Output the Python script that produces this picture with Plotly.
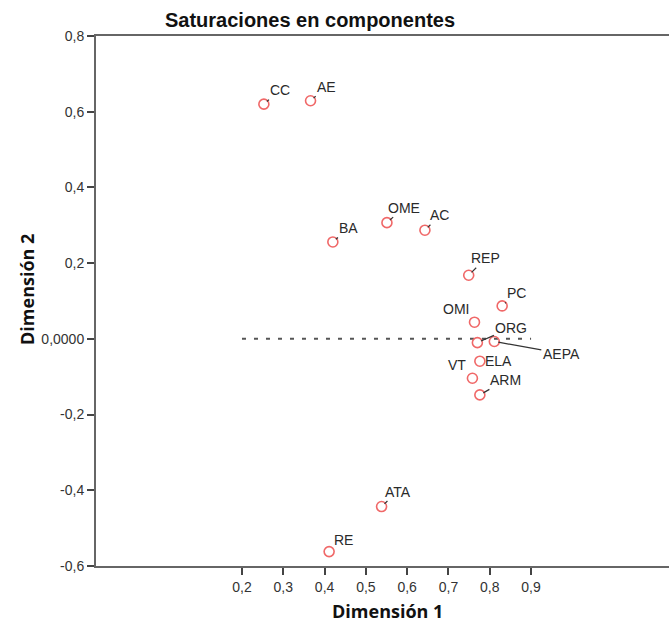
import plotly.graph_objects as go

# ---- data ----
labels = ["CC", "AE", "BA", "OME", "AC", "REP", "PC", "OMI", "ORG", "AEPA",
          "ELA", "VT", "ARM", "ATA", "RE"]
dim1 = [0.253, 0.366, 0.420, 0.551, 0.643, 0.749, 0.830, 0.763, 0.770, 0.811,
        0.776, 0.758, 0.776, 0.538, 0.411]
dim2 = [0.620, 0.629, 0.256, 0.307, 0.287, 0.168, 0.087, 0.044, -0.010, -0.007,
        -0.059, -0.104, -0.148, -0.443, -0.562]
ref_x = [0.2, 0.9]
ref_y = [0.0, 0.0]
x_ticks = [0.2, 0.3, 0.4, 0.5, 0.6, 0.7, 0.8, 0.9]
x_ticktext = ["0,2", "0,3", "0,4", "0,5", "0,6", "0,7", "0,8", "0,9"]
y_ticks = [0.8, 0.6, 0.4, 0.2, 0.0, -0.2, -0.4, -0.6]
y_ticktext = ["0,8", "0,6", "0,4", "0,2", "0,0000", "-0,2", "-0,4", "-0,6"]

# ---- label placement (pixel offsets, leader flag) ----
placement = {
    "CC": (16, -14, True), "AE": (16, -14, True), "BA": (16, -14, True),
    "OME": (17, -15, True), "AC": (15, -15, True), "REP": (17, -17, True),
    "PC": (14, -13, True), "OMI": (-18, -13, False), "ORG": (34, -15, True),
    "AEPA": (67, 12, True), "ELA": (19, 0, False), "VT": (-15, -13, False),
    "ARM": (26, -15, True), "ATA": (16, -15, True), "RE": (14, -12, True),
}

FONT = "Liberation Sans, Arial, sans-serif"
fig = go.Figure()

fig.add_trace(go.Scatter(
    x=ref_x, y=ref_y, mode="lines",
    line=dict(color="#555555", width=2, dash="4px,8px"),
    hoverinfo="skip", showlegend=False))

fig.add_trace(go.Scatter(
    x=dim1, y=dim2, mode="markers",
    marker=dict(symbol="circle-open", size=10, color="#f06868",
                line=dict(width=1.6, color="#f06868")),
    text=labels, showlegend=False))

for lab, xv, yv in zip(labels, dim1, dim2):
    dx, dy, lead = placement[lab]
    if lead:
        fig.add_annotation(x=xv, y=yv, text=lab, showarrow=True, ax=dx, ay=dy,
                           arrowhead=0, arrowwidth=1.2, arrowcolor="#333333",
                           standoff=4, startstandoff=0,
                           font=dict(family=FONT, size=14, color="#2a2a2a"))
    else:
        fig.add_annotation(x=xv, y=yv, text=lab, showarrow=False,
                           xshift=dx, yshift=-dy,
                           font=dict(family=FONT, size=14, color="#2a2a2a"))

# axis titles
fig.add_annotation(xref="paper", yref="paper", x=0.508, y=-0.0849,
                   xanchor="center", yanchor="middle",
                   text="<b>Dimensión 1</b>", showarrow=False,
                   font=dict(family="Open Sans, sans-serif", size=18, color="#111111"))
fig.add_annotation(xref="paper", yref="paper", x=-0.1204, y=0.5208,
                   xanchor="center", yanchor="middle",
                   text="<b>Dimensión 2</b>", showarrow=False, textangle=-90,
                   font=dict(family="Open Sans, sans-serif", size=18, color="#111111"))

fig.update_layout(
    width=669, height=624,
    margin=dict(l=96, r=0, t=36, b=58),
    paper_bgcolor="white", plot_bgcolor="white",
    title=dict(text="<b>Saturaciones en componentes</b>",
               x=310 / 669, xref="container", xanchor="center",
               y=1 - 20 / 624, yref="container", yanchor="middle",
               font=dict(family=FONT, size=20, color="#111111")),
    xaxis=dict(range=[-0.1535, 1.234], tickvals=x_ticks, ticktext=x_ticktext,
               showline=True, linecolor="#666666", linewidth=2, mirror=True,
               ticks="outside", ticklen=7, tickwidth=2, tickcolor="#444444",
               showgrid=False, zeroline=False,
               tickfont=dict(family=FONT, size=14, color="#333333")),
    yaxis=dict(range=[-0.6, 0.8], tickvals=y_ticks, ticktext=y_ticktext,
               showline=True, linecolor="#666666", linewidth=2,
               ticks="outside", ticklen=7, tickwidth=2, tickcolor="#444444",
               showgrid=False, zeroline=False,
               tickfont=dict(family=FONT, size=14, color="#333333")),
)

fig.write_html(
    "out.html",
    config={"displayModeBar": False},
    post_script="document.body.style.margin='0';document.body.style.overflow='hidden';",
)
